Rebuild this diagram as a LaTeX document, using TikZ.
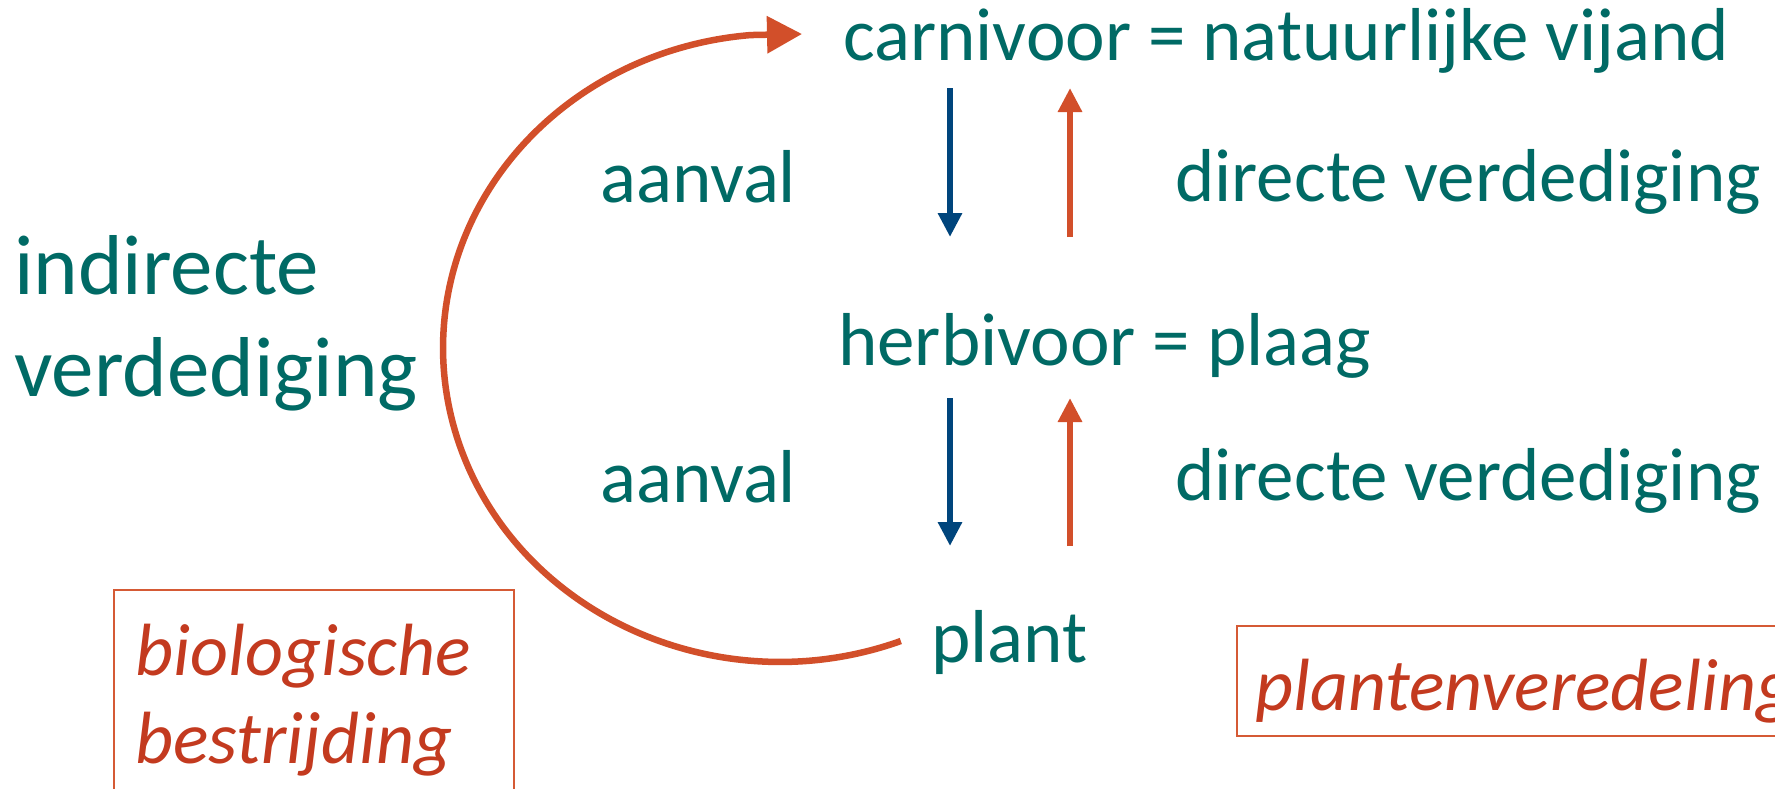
\documentclass[tikz,border=0pt]{standalone}
\usepackage{fontspec}
\setmainfont{Carlito}
\usetikzlibrary{arrows.meta}
\definecolor{teal}{HTML}{006A65}
\definecolor{orng}{HTML}{D24F2A}
\definecolor{dblue}{HTML}{00457C}
\definecolor{redtxt}{HTML}{C33A1F}
\definecolor{frm}{HTML}{D55A35}
\tikzset{
  lbl/.style={anchor=base west, inner sep=0pt, text=teal, font=\fontsize{75}{90}\selectfont},
  biglbl/.style={anchor=base west, inner sep=0pt, text=teal, font=\fontsize{85}{102}\selectfont},
  itl/.style={anchor=base west, inner sep=0pt, text=redtxt, font=\fontsize{74}{88}\selectfont\itshape},
  frame/.style={draw=frm, line width=2pt, inner sep=0pt},
  downarr/.style={draw=dblue, line width=6.5pt, -{Triangle[length=24pt,width=23pt]}},
  uparr/.style={draw=orng, line width=6.5pt, -{Triangle[length=24pt,width=23pt]}},
  bigarr/.style={draw=orng, line width=6.5pt, -{Triangle[length=35pt,width=36pt]}},
}
\begin{document}
\begin{tikzpicture}[x=1pt,y=-1pt]
\useasboundingbox (0,0) rectangle (1775,788);
\clip (0,0) rectangle (1775,788);
\fill[white] (0,0) rectangle (1775,788);
% texts
\node[lbl] (carn) at (843,60) {carnivoor = natuurlijke vijand};
\node[lbl] (herb) at (838,365) {herbivoor = plaag};
\node[lbl] (plant) at (931,662) {plant};
\node[lbl] (aan1) at (600,202) {aanval};
\node[lbl] (aan2) at (600,502) {aanval};
\node[lbl] (dir1) at (1175,201) {directe verdediging};
\node[lbl] (dir2) at (1175,500) {directe verdediging};
\node[biglbl] (ind1) at (14,294) {indirecte};
\node[biglbl] (ind2) at (14,396) {verdediging};
% boxes
\node[frame, minimum width=400pt, minimum height=240pt] (box1) at (314,710) {};
\node[itl] (bio1) at (135,675) {biologische};
\node[itl] (bio2) at (135,763) {bestrijding};
\node[frame, minimum width=593pt, minimum height=110pt] (box2) at (1533.5,681) {};
\node[itl] (veredel) at (1255,710) {plantenveredeling};
% vertical arrows
\coordinate (d1s) at (950,88);  \coordinate (d1e) at (950,237);
\coordinate (u1s) at (1070,237); \coordinate (u1e) at (1070,88);
\coordinate (d2s) at (950,398); \coordinate (d2e) at (950,546);
\coordinate (u2s) at (1070,546); \coordinate (u2e) at (1070,398);
\draw[downarr] (d1s) -- (d1e);
\draw[uparr] (u1s) -- (u1e);
\draw[downarr] (d2s) -- (d2e);
\draw[uparr] (u2s) -- (u2e);
% big curved arrow from plant to carnivoor
\coordinate (arcstart) at (900.8,641);
\coordinate (arctip) at (802,34);
\draw[bigarr] (arcstart) arc[start angle=69, end angle=265, x radius=337, y radius=314] -- (arctip);
\end{tikzpicture}
\end{document}
